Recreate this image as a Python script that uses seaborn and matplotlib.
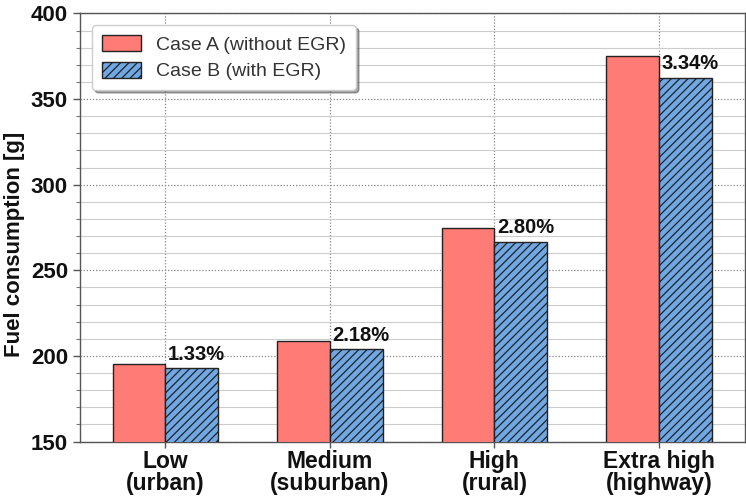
import matplotlib
matplotlib.use("Agg")
import matplotlib.pyplot as plt
import seaborn as sns
import pandas as pd
from matplotlib.patches import Patch
from matplotlib.ticker import MultipleLocator

categories = ["Low\n(urban)", "Medium\n(suburban)", "High\n(rural)", "Extra high\n(highway)"]
case_a = [195.5, 208.5, 274.5, 375.0]
reduction_pct = [1.33, 2.18, 2.80, 3.34]
case_b = [a * (1 - p / 100) for a, p in zip(case_a, reduction_pct)]
series_names = ["Case A (without EGR)", "Case B (with EGR)"]

df = pd.DataFrame({
    "category": categories * 2,
    "fuel": case_a + case_b,
    "case": [series_names[0]] * 4 + [series_names[1]] * 4,
})

sns.set_theme(style="white")
plt.rcParams["font.family"] = ["Liberation Sans", "DejaVu Sans"]
plt.rcParams["hatch.color"] = "#1a2a55"
plt.rcParams["hatch.linewidth"] = 0.9

fig = plt.figure(figsize=(7.46, 4.99), dpi=100)
ax = fig.add_axes([0.107, 0.115, 0.891, 0.858])

color_a = "#ff7b76"
color_b = "#6fa8e4"
palette = {series_names[0]: color_a, series_names[1]: color_b}
sns.barplot(data=df, x="category", y="fuel", hue="case", palette=palette,
            width=0.64, gap=0, edgecolor="#222222", linewidth=1.0,
            saturation=1, ax=ax, zorder=3, legend=False)

for bar in ax.containers[1]:
    bar.set_hatch("////")

ax.set_ylim(150, 400)
ax.set_xlim(-0.52, 3.52)
ax.yaxis.set_major_locator(MultipleLocator(50))
ax.yaxis.set_minor_locator(MultipleLocator(10))
ax.grid(which="major", axis="both", color="#888888", linestyle=(0, (1, 1.5)), linewidth=0.9, zorder=0)
ax.grid(which="minor", axis="y", color="#cccccc", linestyle="-", linewidth=0.8, zorder=0)
ax.set_axisbelow(True)

for s in ax.spines.values():
    s.set_color("#555555")
    s.set_linewidth(1.0)

ax.tick_params(axis="y", which="major", direction="out", length=5, width=1, color="#555555",
               labelsize=16, left=True)
ax.tick_params(axis="y", which="minor", direction="out", length=3, width=0.8, color="#777777", left=True)
ax.tick_params(axis="x", which="major", direction="out", length=4, width=1, color="#555555",
               labelsize=16.5, bottom=True, pad=2)
for lbl in ax.get_xticklabels() + ax.get_yticklabels():
    lbl.set_fontweight("bold")
    lbl.set_color("#111111")
for lbl in ax.get_xticklabels():
    lbl.set_linespacing(0.95)

ax.set_xlabel("")
ax.set_ylabel("Fuel consumption [g]", fontsize=16, fontweight="bold", color="#111111")
ax.yaxis.set_label_coords(-0.083, 0.46)

bw = 0.32
for i, (b, p) in enumerate(zip(case_b, reduction_pct)):
    ax.text(i + bw / 2 + 0.03, b + 2.5, f"{p:.2f}%", ha="center", va="bottom",
            fontsize=14.5, fontweight="bold", color="#111111", zorder=5)

handles = [
    Patch(facecolor=color_a, edgecolor="#222222", linewidth=1.0, label=series_names[0]),
    Patch(facecolor=color_b, edgecolor="#222222", linewidth=1.0, hatch="////", label=series_names[1]),
]
leg = ax.legend(handles=handles, loc="upper left", bbox_to_anchor=(0.004, 0.995), fontsize=14,
                frameon=True, fancybox=True, shadow=True, handlelength=2.0,
                handleheight=0.9, borderpad=0.5, labelspacing=0.4, handletextpad=0.8)
leg.get_frame().set_edgecolor("#cccccc")
for t in leg.get_texts():
    t.set_color("#333333")

fig.savefig("out.png", dpi=100)
